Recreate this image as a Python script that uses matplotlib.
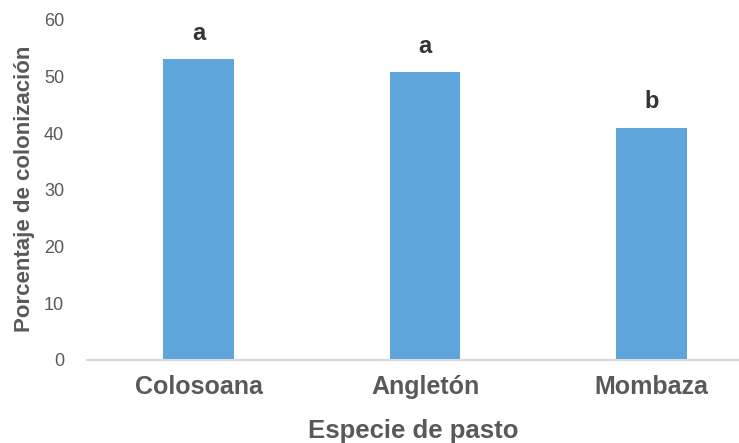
import matplotlib
matplotlib.use('Agg')
import matplotlib.pyplot as plt

especies = ['Colosoana', 'Angletón', 'Mombaza']
colonizacion = [53.1, 50.8, 41.0]
letras = ['a', 'a', 'b']
yticks = [0, 10, 20, 30, 40, 50, 60]

plt.rcParams['font.family'] = ['Liberation Sans', 'DejaVu Sans']

W, H = 739, 443
fig = plt.figure(figsize=(W / 100, H / 100), dpi=100)
ax = fig.add_axes([87 / W, (H - 360) / H, 1 - 87 / W, 340 / H])

x = list(range(len(especies)))
ax.bar(x, colonizacion, width=0.313, color='#5DA5DA', zorder=2)

# letras de significancia
for xi, v, l in zip(x, colonizacion, letras):
    ax.text(xi, v + 2.5, l, ha='center', va='bottom', fontsize=17,
            fontweight='bold', color='#333333')

ax.set_xlim(-0.492, 2.386)
ax.set_ylim(0, 60)
ax.set_yticks(yticks)
ax.set_xticks(x)
ax.set_xticklabels(especies, fontsize=18, fontweight='bold', color='#595959')
ax.tick_params(axis='y', labelsize=13, colors='#595959', length=0, pad=16.5)
ax.tick_params(axis='x', length=0, pad=11)

for s in ['top', 'right', 'left']:
    ax.spines[s].set_visible(False)
ax.spines['bottom'].set_color('#D9D9D9')
ax.spines['bottom'].set_linewidth(1.5)

fig.text(413 / W, 1 - 431 / H, 'Especie de pasto', ha='center', va='center',
         fontsize=18.5, fontweight='bold', color='#595959')
fig.text(25 / W, 1 - 189 / H, 'Porcentaje de colonización', ha='center',
         va='center', rotation=90, fontsize=16, fontweight='bold', color='#595959')

fig.savefig('out.png', dpi=100)
